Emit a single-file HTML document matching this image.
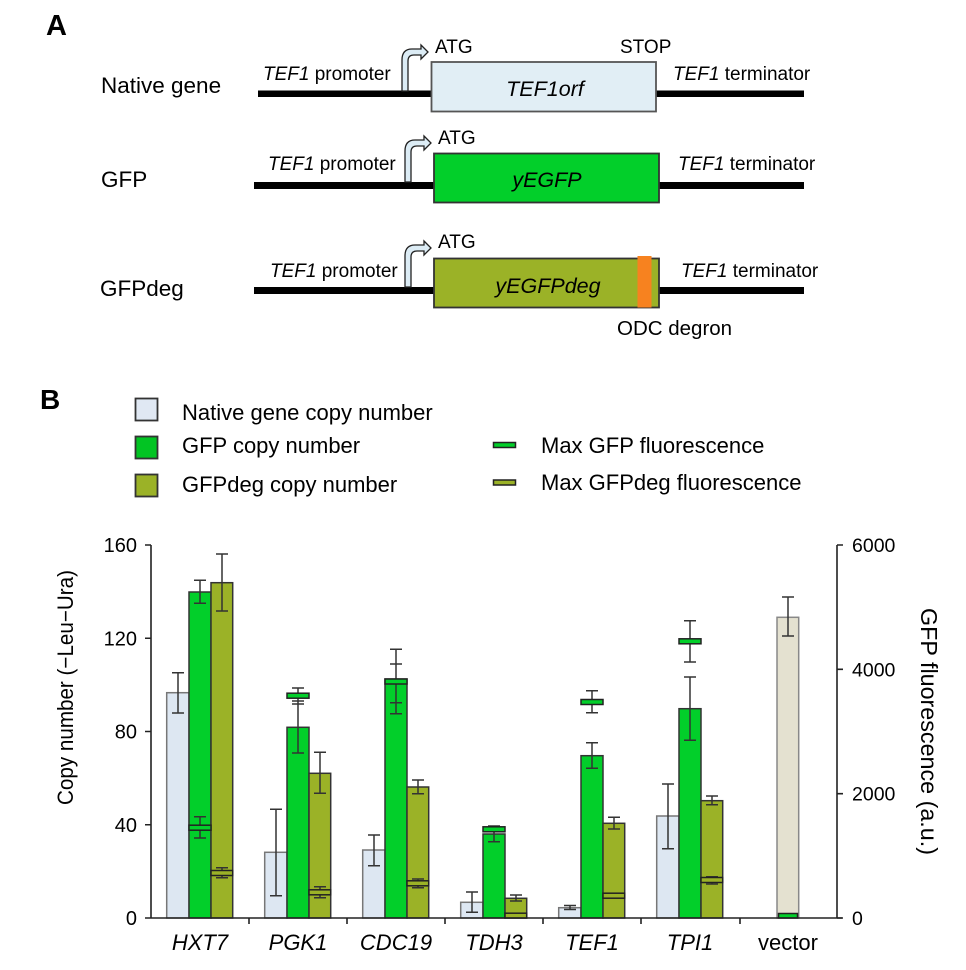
<!DOCTYPE html>
<html><head><meta charset="utf-8"><style>
html,body{margin:0;padding:0;background:#fff;}
svg{display:block;}
text{font-family:"Liberation Sans",Arial,sans-serif;fill:#000;}
</style></head><body>
<svg width="966" height="970" viewBox="0 0 966 970" xmlns="http://www.w3.org/2000/svg">
<!-- Panel A -->
<text x="46" y="35" font-size="29" font-weight="bold">A</text>
<text x="101" y="93" font-size="22.5">Native gene</text>
<text x="101" y="187" font-size="22.5">GFP</text>
<text x="100" y="296" font-size="22.5">GFPdeg</text>

<!-- lines -->
<rect x="258" y="90.5" width="546" height="6.5" fill="#000"/>
<rect x="254" y="182" width="550" height="7" fill="#000"/>
<rect x="254" y="287" width="550" height="7" fill="#000"/>

<!-- arrows -->
<path d="M402,91 L402,60 Q402,49 412,49 L421,49 L421,45 L428,52 L421,59 L421,55 L414,55 Q408,55 408,61 L408,91 Z" fill="#dcecf5" stroke="#222" stroke-width="1.3"/>
<path d="M405,182 L405,151 Q405,140 415,140 L424,140 L424,136 L431,143 L424,150 L424,146 L417,146 Q411,146 411,152 L411,182 Z" fill="#dcecf5" stroke="#222" stroke-width="1.3"/>
<path d="M405,287 L405,256 Q405,245 415,245 L424,245 L424,241 L431,248 L424,255 L424,251 L417,251 Q411,251 411,257 L411,287 Z" fill="#dcecf5" stroke="#222" stroke-width="1.3"/>

<!-- boxes -->
<rect x="431.5" y="62" width="224.5" height="49.5" fill="#e1eef5" stroke="#555" stroke-width="1.8"/>
<rect x="434" y="153.5" width="225" height="49" fill="#02cf2a" stroke="#333" stroke-width="1.8"/>
<rect x="434" y="258.5" width="225" height="49" fill="#9bb227" stroke="#333" stroke-width="1.8"/>
<rect x="637.5" y="256" width="14" height="51.5" fill="#f7821f"/>

<text x="435" y="53" font-size="19">ATG</text>
<text x="438" y="144" font-size="19">ATG</text>
<text x="438" y="248" font-size="19">ATG</text>
<text x="620" y="53" font-size="19">STOP</text>

<text x="263" y="80" font-size="19"><tspan font-style="italic">TEF1</tspan> promoter</text>
<text x="268" y="170" font-size="19"><tspan font-style="italic">TEF1</tspan> promoter</text>
<text x="270" y="277" font-size="19"><tspan font-style="italic">TEF1</tspan> promoter</text>
<text x="673" y="80" font-size="19"><tspan font-style="italic">TEF1</tspan> terminator</text>
<text x="678" y="170" font-size="19"><tspan font-style="italic">TEF1</tspan> terminator</text>
<text x="681" y="277" font-size="19"><tspan font-style="italic">TEF1</tspan> terminator</text>

<text x="545" y="96" font-size="21.5" font-style="italic" text-anchor="middle">TEF1orf</text>
<text x="547" y="187" font-size="21.5" font-style="italic" text-anchor="middle">yEGFP</text>
<text x="548" y="293" font-size="21.5" font-style="italic" text-anchor="middle">yEGFPdeg</text>
<text x="617" y="335" font-size="20.5">ODC degron</text>

<!-- Panel B legend -->
<text x="40" y="409" font-size="28" font-weight="bold">B</text>
<rect x="135.5" y="398.5" width="22" height="22" fill="#e0e8f3" stroke="#333" stroke-width="1.8"/>
<rect x="135.5" y="436.5" width="22" height="22" fill="#02c423" stroke="#333" stroke-width="1.8"/>
<rect x="135.5" y="474.5" width="22" height="22" fill="#9bb227" stroke="#333" stroke-width="1.8"/>
<text x="182" y="420" font-size="22">Native gene copy number</text>
<text x="182" y="453" font-size="22">GFP copy number</text>
<text x="182" y="492" font-size="22">GFPdeg copy number</text>
<rect x="493.5" y="442.5" width="22" height="5" fill="#02cf2a" stroke="#222" stroke-width="1.5"/>
<rect x="493.5" y="480" width="22" height="5" fill="#9bb227" stroke="#222" stroke-width="1.5"/>
<text x="541" y="453" font-size="22">Max GFP fluorescence</text>
<text x="541" y="490" font-size="22">Max GFPdeg fluorescence</text>

<!-- Bars -->
<g stroke-width="1.5">
<!-- HXT7 -->
<rect x="166.7" y="692.7" width="22.3" height="225.3" fill="#dde7f2" stroke="#777"/>
<rect x="189" y="592" width="22" height="326" fill="#02cf2a" stroke="#333"/>
<rect x="211" y="582.7" width="21.7" height="335.3" fill="#9bb227" stroke="#333"/>
<!-- PGK1 -->
<rect x="264.7" y="852.3" width="22.3" height="65.7" fill="#dde7f2" stroke="#777"/>
<rect x="287" y="727.3" width="22" height="190.7" fill="#02cf2a" stroke="#333"/>
<rect x="309" y="773.3" width="21.7" height="144.7" fill="#9bb227" stroke="#333"/>
<!-- CDC19 -->
<rect x="362.7" y="850" width="22.3" height="68" fill="#dde7f2" stroke="#777"/>
<rect x="385" y="679" width="22" height="239" fill="#02cf2a" stroke="#333"/>
<rect x="407" y="787" width="21.7" height="131" fill="#9bb227" stroke="#333"/>
<!-- TDH3 -->
<rect x="460.7" y="902.3" width="22.3" height="15.7" fill="#dde7f2" stroke="#777"/>
<rect x="483" y="834" width="22" height="84" fill="#02cf2a" stroke="#333"/>
<rect x="505" y="898.3" width="21.7" height="19.7" fill="#9bb227" stroke="#333"/>
<!-- TEF1 -->
<rect x="558.7" y="907.7" width="22.3" height="10.3" fill="#dde7f2" stroke="#777"/>
<rect x="581" y="755.7" width="22" height="162.3" fill="#02cf2a" stroke="#333"/>
<rect x="603" y="823.3" width="21.7" height="94.7" fill="#9bb227" stroke="#333"/>
<!-- TPI1 -->
<rect x="656.7" y="816" width="22.3" height="102" fill="#dde7f2" stroke="#777"/>
<rect x="679" y="708.7" width="22" height="209.3" fill="#02cf2a" stroke="#333"/>
<rect x="701" y="800.7" width="21.7" height="117.3" fill="#9bb227" stroke="#333"/>
<!-- vector -->
<rect x="777" y="617.3" width="21.7" height="300.7" fill="#e4e1d0" stroke="#888"/>
</g>

<!-- Error bars -->
<g stroke="#333" stroke-width="1.5" fill="none">
<!-- HXT7 -->
<path d="M178,672.7V713M172,672.7H184M172,713H184"/>
<path d="M200,580.3V603.3M194,580.3H206M194,603.3H206"/>
<path d="M222,554V611M216,554H228M216,611H228"/>
<path d="M200,816.7V838M194,816.7H206M194,838H206"/>
<path d="M222,867.7V877.7M216,867.7H228M216,877.7H228"/>
<!-- PGK1 -->
<path d="M276,809.3V895.7M270,809.3H282M270,895.7H282"/>
<path d="M298,688V753M292,688H304M292,701H304M292,704H304M292,753H304"/>
<path d="M320,752.3V793.3M314,752.3H326M314,793.3H326"/>
<path d="M320,886.7V897.7M314,886.7H326M314,897.7H326"/>
<!-- CDC19 -->
<path d="M374,835V865.7M368,835H380M368,865.7H380"/>
<path d="M396,649.3V713.7M390,649.3H402M390,664H402M390,702.7H402M390,713.7H402"/>
<path d="M418,780V793.7M412,780H424M412,793.7H424"/>
<path d="M418,879V887.7M412,879H424M412,887.7H424"/>
<!-- TDH3 -->
<path d="M472,892V912.3M466,892H478M466,912.3H478"/>
<path d="M494,826V841.7M488,826H500M488,841.7H500"/>
<path d="M516,895V901M510,895H522M510,901H522"/>
<!-- TEF1 -->
<path d="M570,905.5V909.5M564,905.5H576M564,909.5H576"/>
<path d="M592,742.7V768.3M586,742.7H598M586,768.3H598"/>
<path d="M592,690.7V712.7M586,690.7H598M586,712.7H598"/>
<path d="M614,817.3V829M608,817.3H620M608,829H620"/>
<!-- TPI1 -->
<path d="M668,784V848.7M662,784H674M662,848.7H674"/>
<path d="M690,677V740.3M684,677H696M684,740.3H696"/>
<path d="M690,620.7V662M684,620.7H696M684,662H696"/>
<path d="M712,796V804.7M706,796H718M706,804.7H718"/>
<path d="M712,876.7V884M706,876.7H718M706,884H718"/>
<!-- vector -->
<path d="M788,597V636M782,597H794M782,636H794"/>
</g>

<!-- Markers -->
<g stroke="#222" stroke-width="1.5">
<rect x="189" y="825.2" width="22" height="5" fill="#02cf2a"/>
<rect x="211" y="870.5" width="21.7" height="5" fill="#9bb227"/>
<rect x="287" y="693.2" width="22" height="5" fill="#02cf2a"/>
<rect x="309" y="889.8" width="21.7" height="5" fill="#9bb227"/>
<rect x="385" y="679" width="22" height="5" fill="#02cf2a"/>
<rect x="407" y="880.8" width="21.7" height="5" fill="#9bb227"/>
<rect x="483" y="826.8" width="22" height="5" fill="#02cf2a"/>
<rect x="505" y="913.2" width="21.7" height="4.8" fill="#9bb227"/>
<rect x="581" y="699.5" width="22" height="5" fill="#02cf2a"/>
<rect x="603" y="893.2" width="21.7" height="5" fill="#9bb227"/>
<rect x="679" y="638.8" width="22" height="5" fill="#02cf2a"/>
<rect x="701" y="877.5" width="21.7" height="5" fill="#9bb227"/>
<rect x="778.5" y="913.5" width="19" height="4.5" fill="#02cf2a"/>
</g>

<!-- Axes -->
<g stroke="#222" stroke-width="1.6" fill="none">
<path d="M151,545V918"/>
<path d="M145,918H842"/>
<path d="M837,545V918"/>
<path d="M145,545H151M145,638.25H151M145,731.5H151M145,824.75H151"/>
<path d="M837,545H843M837,669.3H843M837,793.7H843M837,918H843"/>
<path d="M249,918V924M347,918V924M445,918V924M543,918V924M641,918V924M740,918V924"/>
</g>

<!-- Tick labels -->
<g font-size="20" text-anchor="end">
<text x="137" y="552">160</text>
<text x="137" y="645.5">120</text>
<text x="137" y="738.5">80</text>
<text x="137" y="832">40</text>
<text x="137" y="925">0</text>
</g>
<g font-size="19.5">
<text x="852" y="552">6000</text>
<text x="852" y="676.5">4000</text>
<text x="852" y="800.5">2000</text>
<text x="852" y="925">0</text>
</g>

<!-- X labels -->
<g font-size="22" text-anchor="middle">
<text x="200" y="950" font-style="italic">HXT7</text>
<text x="298" y="950" font-style="italic">PGK1</text>
<text x="396" y="950" font-style="italic">CDC19</text>
<text x="494" y="950" font-style="italic">TDH3</text>
<text x="592" y="950" font-style="italic">TEF1</text>
<text x="690" y="950" font-style="italic">TPI1</text>
<text x="788" y="950">vector</text>
</g>

<!-- Axis titles -->
<text transform="translate(73,687.5) rotate(-90)" font-size="22" text-anchor="middle" textLength="235" lengthAdjust="spacingAndGlyphs">Copy number (−Leu−Ura)</text>
<text transform="translate(921,731.5) rotate(90)" font-size="23" text-anchor="middle" textLength="247" lengthAdjust="spacingAndGlyphs">GFP fluorescence (a.u.)</text>
</svg>
</body></html>
